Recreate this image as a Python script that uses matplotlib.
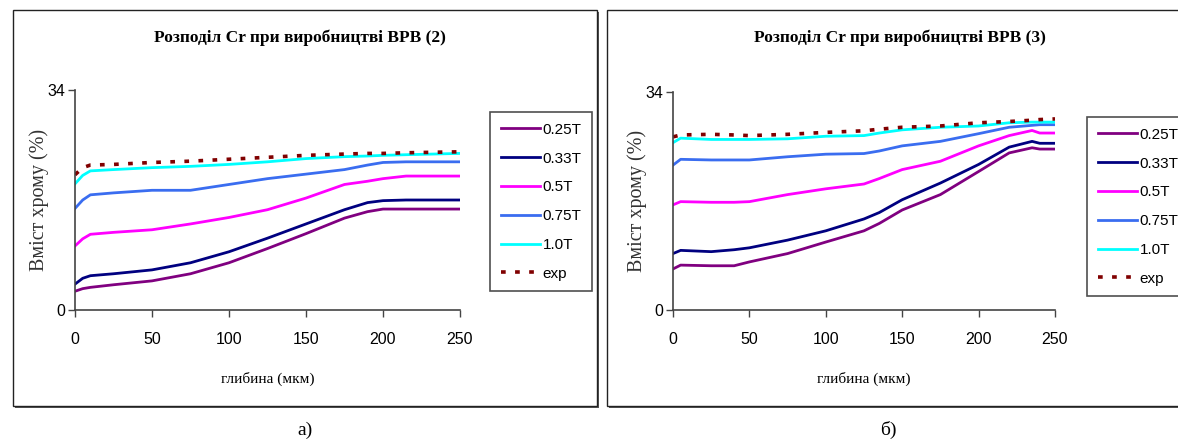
import matplotlib
matplotlib.use('Agg')
import matplotlib.pyplot as plt
from matplotlib.patches import Rectangle

# depth (mkm) points read from panel a) and panel b)
depth_a = [0, 5, 10, 25, 50, 75, 100, 125, 150, 175, 190, 200, 215, 250]
cr_a = {
    '0.25T': [2.9, 3.3, 3.5, 3.9, 4.5, 5.6, 7.3, 9.5, 11.8, 14.2, 15.2, 15.6, 15.6, 15.6],
    '0.33T': [4.0, 4.9, 5.3, 5.6, 6.2, 7.3, 9.0, 11.1, 13.3, 15.5, 16.6, 16.9, 17.0, 17.0],
    '0.5T': [9.9, 11.0, 11.7, 12.0, 12.4, 13.3, 14.3, 15.5, 17.3, 19.4, 19.9, 20.3, 20.7, 20.7],
    '0.75T': [15.7, 17.0, 17.8, 18.1, 18.5, 18.5, 19.4, 20.3, 21.0, 21.7, 22.4, 22.8, 22.9, 22.9],
    '1.0T': [19.5, 20.8, 21.5, 21.7, 22.0, 22.2, 22.5, 22.9, 23.4, 23.7, 23.8, 23.9, 24.0, 24.2],
    'exp': [20.9, 22.0, 22.4, 22.5, 22.8, 23.0, 23.3, 23.6, 23.9, 24.1, 24.2, 24.2, 24.3, 24.45],
}

depth_b = [0, 5, 25, 40, 50, 75, 100, 125, 135, 150, 175, 200, 220, 235, 240, 250]
cr_b = {
    '0.25T': [6.4, 7.0, 6.9, 6.9, 7.5, 8.8, 10.6, 12.35, 13.5, 15.6, 18.0, 21.6, 24.5, 25.3, 25.1, 25.1],
    '0.33T': [8.8, 9.3, 9.1, 9.4, 9.7, 10.9, 12.35, 14.2, 15.2, 17.2, 19.8, 22.7, 25.4, 26.3, 26.0, 26.0],
    '0.5T': [16.4, 16.9, 16.8, 16.8, 16.9, 18.0, 18.9, 19.65, 20.5, 21.9, 23.2, 25.6, 27.2, 28.0, 27.6, 27.6],
    '0.75T': [22.6, 23.5, 23.4, 23.4, 23.4, 23.9, 24.3, 24.4, 24.8, 25.6, 26.3, 27.5, 28.5, 28.8, 28.9, 28.9],
    '1.0T': [26.1, 26.8, 26.6, 26.6, 26.6, 26.7, 27.1, 27.2, 27.6, 28.1, 28.5, 28.7, 29.2, 29.3, 29.3, 29.3],
    'exp': [27.0, 27.3, 27.4, 27.3, 27.2, 27.4, 27.7, 27.95, 28.2, 28.5, 28.7, 29.2, 29.4, 29.6, 29.7, 29.8],
}

colors = {
    '0.25T': '#800080',
    '0.33T': '#000080',
    '0.5T': '#ff00ff',
    '0.75T': '#3a6df0',
    '1.0T': '#00ffff',
    'exp': '#800000',
}

titles = ['Розподіл Cr при виробництві ВРВ (2)', 'Розподіл Cr при виробництві ВРВ (3)']
captions = ['а)', 'б)']

W, H = 1178, 441
fig = plt.figure(figsize=(W / 100, H / 100), dpi=100)
fig.patch.set_facecolor('white')


def fx(px):
    return px / W


def fy(py):
    return 1 - py / H


def panel(box, ax_rect, leg_xy, depth, data, title, title_x, caption, cap_x):
    x0, y0, x1, y1 = box
    # shadow + frame
    fig.patches.append(Rectangle((fx(x0 + 2), fy(y1 + 2)), fx(x1 - x0), (y1 - y0) / H,
                                 transform=fig.transFigure, facecolor='#555555',
                                 edgecolor='none', zorder=-2))
    fig.patches.append(Rectangle((fx(x0), fy(y1)), fx(x1 - x0), (y1 - y0) / H,
                                 transform=fig.transFigure, facecolor='white',
                                 edgecolor='#222222', lw=1, zorder=-1))

    ax = fig.add_axes(ax_rect)
    ax.set_zorder(1)
    ax.patch.set_alpha(0)
    for name, vals in data.items():
        if name == 'exp':
            ax.plot(depth, vals, color=colors[name], lw=2.6,
                    linestyle=(0, (1.3, 2.6)), label=name)
        else:
            ax.plot(depth, vals, color=colors[name], lw=2, label=name)

    ax.set_xlim(0, 250)
    ax.set_ylim(0, 34)
    ax.set_xticks([0, 50, 100, 150, 200, 250])
    ax.set_yticks([0, 34])
    for s in ['top', 'right']:
        ax.spines[s].set_visible(False)
    for s in ['left', 'bottom']:
        ax.spines[s].set_color('#444444')
        ax.spines[s].set_linewidth(1.2)
    ax.tick_params(direction='out', length=5, width=1, color='#444444',
                   labelsize=11.5, labelcolor='black', pad=11)
    ax.tick_params(axis='y', pad=2)
    for lab in ax.get_xticklabels() + ax.get_yticklabels():
        lab.set_family('Liberation Sans')

    ax.set_xlabel('глибина (мкм)', family='Liberation Serif', fontsize=11,
                  labelpad=18)
    ax.set_ylabel('Вміст хрому (%)', family='Liberation Serif', fontsize=14.5,
                  labelpad=-1, color='#333333')

    fig.text(fx(title_x), fy(38), title,
             family='Liberation Serif', fontweight='bold', fontsize=12.5,
             ha='center', va='center')

    leg = fig.legend(*ax.get_legend_handles_labels(), loc='upper left',
                     bbox_to_anchor=leg_xy, bbox_transform=fig.transFigure,
                     frameon=True, fancybox=False, borderaxespad=0,
                     handlelength=2.6, handletextpad=0.15, labelspacing=0.97,
                     borderpad=0.7,
                     prop={'family': 'Liberation Sans', 'size': 11})
    leg.get_frame().set_edgecolor('#222222')
    leg.get_frame().set_linewidth(1.2)
    leg.set_zorder(2)

    fig.text(fx(cap_x), fy(430), caption, family='Liberation Serif',
             fontsize=14, ha='center', va='center')


panel((13, 10, 597, 406), [fx(75), fy(310), fx(385), (310 - 90) / H],
      (fx(490), fy(112)), depth_a, cr_a, titles[0], 300, captions[0], 305)
panel((607, 10, 1200, 406), [fx(673), fy(310), fx(382), (310 - 92) / H],
      (fx(1087), fy(117)), depth_b, cr_b, titles[1], 900, captions[1], 888)

fig.savefig('out.png', dpi=100)
